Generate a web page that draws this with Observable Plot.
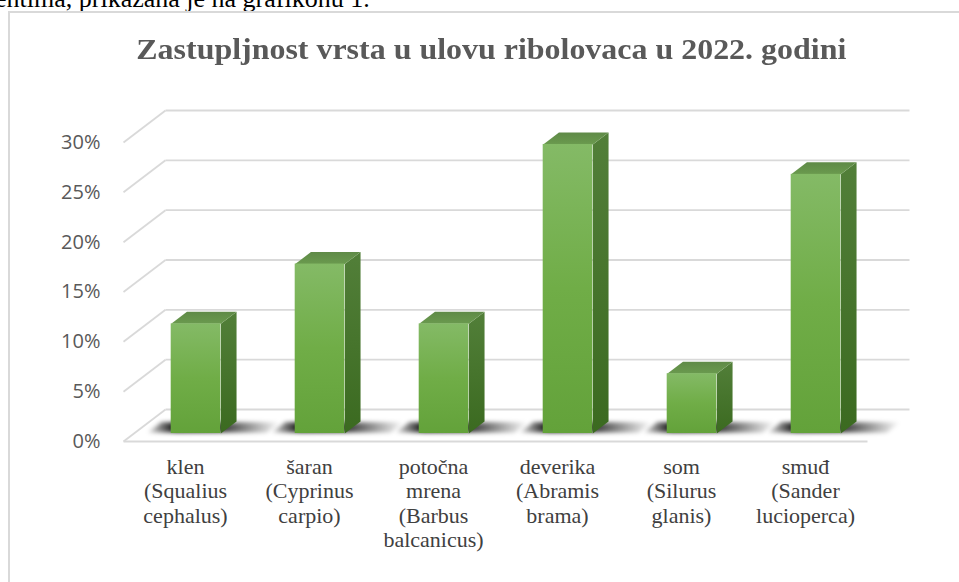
<!DOCTYPE html>
<html>
<head>
<meta charset="utf-8">
<script src="https://cdn.jsdelivr.net/npm/d3@7"></script>
<script src="https://cdn.jsdelivr.net/npm/@observablehq/plot@0.6"></script>
<style>
  body { margin: 0; background: #fff; }
  #wrap { position: relative; width: 959px; height: 582px; overflow: hidden; background: #fff; }
  .serif { font-family: "Times New Roman", "Liberation Serif", Tinos, "DejaVu Serif", serif !important; }
  #lead { position: absolute; left: -5px; top: -14px; font-size: 26px; line-height: 26px; color: #000; white-space: nowrap; }
  #frame { position: absolute; left: 8px; top: 11px; width: 1200px; height: 1200px; border-left: 2px solid #d9d9d9; border-top: 2px solid #d9d9d9; }
  #title { position: absolute; left: 0; top: 35px; width: 982px; text-align: center; white-space: nowrap;
           font-weight: bold; font-size: 29px; line-height: 29px; color: #595959; }
  #title span { display: inline-block; transform-origin: 50% 50%; }
  #chart { position: absolute; left: 0; top: 0; }
  #chart g[aria-label="x-axis tick label"], #chart g[aria-label="x-axis tick label"] text {
    font-family: "Times New Roman", "Liberation Serif", Tinos, "DejaVu Serif", serif !important; }
</style>
</head>
<body>
<div id="wrap">
  <div id="lead" class="serif">entima, prikazana je na grafikonu 1.</div>
  <div id="frame"></div>
  <div id="title" class="serif"><span class="serif">Zastupljnost vrsta u ulovu ribolovaca u 2022. godini</span></div>
  <div id="chart"></div>
</div>
<script>
// ---- data ----
const categories = [
  "klen\n(Squalius\ncephalus)",
  "šaran\n(Cyprinus\ncarpio)",
  "potočna\nmrena\n(Barbus\nbalcanicus)",
  "deverika\n(Abramis\nbrama)",
  "som\n(Silurus\nglanis)",
  "smuđ\n(Sander\nlucioperca)"
];
const shares = [11, 17, 11, 29, 6, 26];   // percent
const yTicks = [0, 5, 10, 15, 20, 25, 30];

// ---- layout ----
const W = 959, H = 582;
const mL = 123, mR = 92, mT = 142, mB = 141;
const xDom = [-0.5, categories.length - 0.5];
const yDom = [0, 30];
const pxX = (W - mL - mR) / (xDom[1] - xDom[0]);
const pxY = (H - mT - mB) / (yDom[1] - yDom[0]);
// oblique 3D depth (full depth of floor) in data units
const dxU = 42 / pxX, dyU = 32 / pxY;
const P = (x, y, t) => ({x: x + t * dxU, y: y + t * dyU});
const hw = 0.2, t1 = 0.25, t2 = 0.625;

const idx = shares.map((_, i) => i);

// gridlines
const backGrid = yTicks.map(v => ({a: P(xDom[0], v, 1), b: P(xDom[1], v, 1)}));
const sideGrid = yTicks.map(v => ({a: P(xDom[0], v, 0), b: P(xDom[0], v, 1)}));
const frontEdge = [{a: P(xDom[0], 0, 0), b: P(xDom[1], 0, 0)}];

// faces
const sidePts = [], topPts = [], shadowPts = [];
idx.forEach(i => {
  const v = shares[i];
  [[i + hw, 0, t1], [i + hw, v, t1], [i + hw, v, t2], [i + hw, 0, t2]]
    .forEach(([x, y, t]) => sidePts.push({id: i, ...P(x, y, t)}));
  [[i - hw, v, t1], [i + hw, v, t1], [i + hw, v, t2], [i - hw, v, t2]]
    .forEach(([x, y, t]) => topPts.push({id: i, ...P(x, y, t)}));
  [[i - hw - 0.2, 0, t1 + 0.03], [i + hw + 0.36, 0, t1 + 0.03], [i + hw + 0.36, 0, t2 - 0.02], [i - hw - 0.2, 0, t2 - 0.02]]
    .forEach(([x, y, t]) => shadowPts.push({id: i, ...P(x, y, t)}));
});
const fronts = idx.map(i => ({
  x1: P(i - hw, 0, t1).x, x2: P(i + hw, 0, t1).x,
  y1: P(0, 0, t1).y, y2: P(0, shares[i], t1).y
}));

function defs() {
  const d = d3.create("svg:defs");
  const grad = (id, stops, horiz) => {
    const g = d.append("linearGradient").attr("id", id)
      .attr("x1", 0).attr("y1", 0).attr("x2", horiz ? 1 : 0).attr("y2", horiz ? 0 : 1);
    stops.forEach(([o, c, a]) => g.append("stop").attr("offset", o).attr("stop-color", c).attr("stop-opacity", a ?? 1));
  };
  grad("gFront", [[0, "#84ba66"], [0.5, "#70ad47"], [1, "#63a23a"]]);
  grad("gSide", [[0, "#527f39"], [1, "#3b6a20"]]);
  grad("gTop", [[0, "#5f8a47"], [1, "#6a9a4e"]]);
  grad("gShadow", [[0, "#000", 0.1], [0.22, "#000", 1], [0.52, "#000", 0.85], [1, "#000", 0]], true);
  return d.node();
}

const grid = {stroke: "#d9d9d9", strokeWidth: 1.8};
const plot = Plot.plot({
  width: W, height: H,
  marginLeft: mL, marginRight: mR, marginTop: mT, marginBottom: mB,
  x: {type: "linear", domain: xDom},
  y: {type: "linear", domain: yDom},
  style: {background: "transparent", overflow: "visible"},
  marks: [
    defs,
    Plot.link(backGrid, {x1: d => d.a.x, y1: d => d.a.y, x2: d => d.b.x, y2: d => d.b.y, ...grid}),
    Plot.link(sideGrid, {x1: d => d.a.x, y1: d => d.a.y, x2: d => d.b.x, y2: d => d.b.y, ...grid}),
    Plot.link(frontEdge, {x1: d => d.a.x, y1: d => d.a.y, x2: d => d.b.x, y2: d => d.b.y, ...grid}),
    Plot.line(shadowPts, {x: "x", y: "y", z: "id", curve: "linear-closed", stroke: "none", fill: "url(#gShadow)", className: "shadow"}),
    Plot.line(sidePts, {x: "x", y: "y", z: "id", curve: "linear-closed", stroke: "none", fill: "url(#gSide)"}),
    Plot.line(topPts, {x: "x", y: "y", z: "id", curve: "linear-closed", stroke: "none", fill: "url(#gTop)"}),
    Plot.rect(fronts, {x1: "x1", x2: "x2", y1: "y1", y2: "y2", fill: "url(#gFront)"}),
    Plot.axisY({ticks: yTicks, tickFormat: d => d + "%", tickSize: 0, tickPadding: 23,
      fontSize: 20, fontFamily: "'Open Sans', sans-serif", fill: "#595959", label: null}),
    Plot.axisX({ticks: idx, tickFormat: i => categories[i], tickSize: 0, tickPadding: 15,
      fontSize: 22, lineHeight: 1.11, fontFamily: "Times New Roman",
      fill: "#404040", label: null})
  ]
});
document.getElementById("chart").appendChild(plot);

const st = document.createElement("style");
st.textContent = ".shadow path{filter:blur(2.2px);}";
document.head.appendChild(st);

// fit title width to the reference
const ts = document.querySelector("#title span");
const w = ts.getBoundingClientRect().width;
ts.style.transform = `scaleX(${710 / w})`;
</script>
</body>
</html>
